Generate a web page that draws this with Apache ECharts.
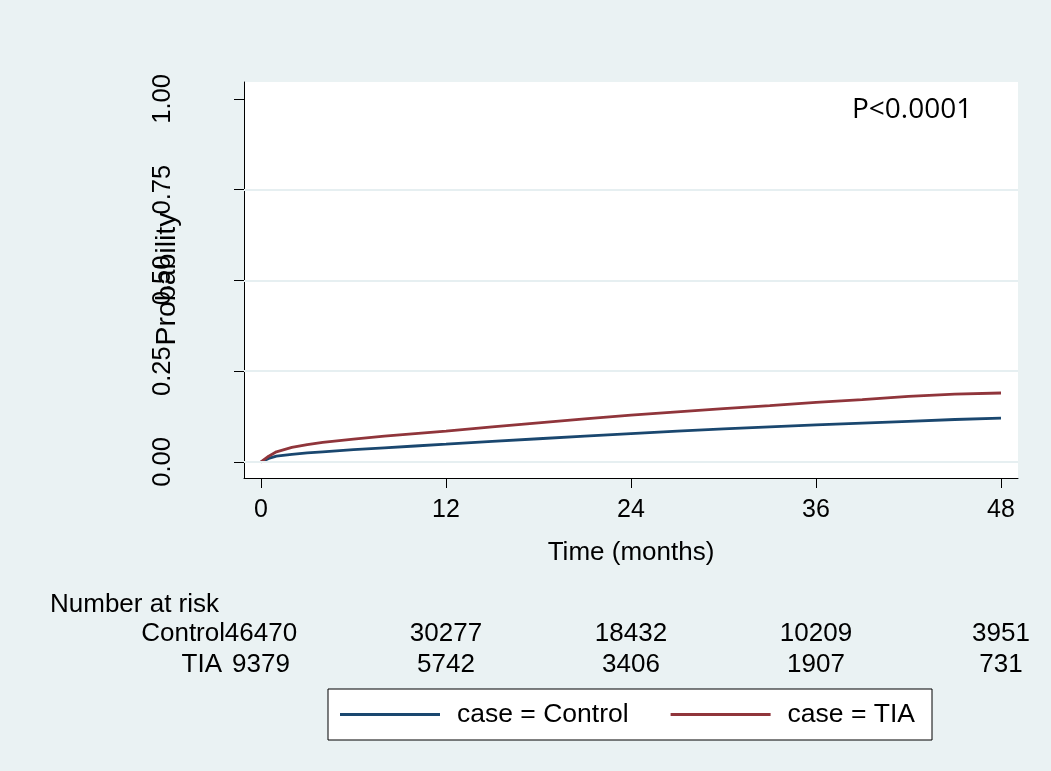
<!DOCTYPE html>
<html>
<head>
<meta charset="utf-8">
<title>Cumulative failure by case group</title>
<script src="https://cdn.jsdelivr.net/npm/echarts@6/dist/echarts.min.js"></script>
<style>
  html, body { margin: 0; padding: 0; background: #eaf2f3; }
  #chart { width: 1051px; height: 771px; }
</style>
</head>
<body>
<div id="chart"></div>
<script>
// Follow-up time (months) and cumulative failure probability per group
const timePoints = [0, 0.5, 1, 2, 3, 4, 6, 8, 10, 12, 15, 18, 21, 24, 27, 30, 33, 36, 39, 42, 45, 48];
const controlFailure = [0, 0.010, 0.016, 0.021, 0.025, 0.028, 0.034, 0.039, 0.044, 0.049, 0.057, 0.064, 0.071, 0.078, 0.085, 0.091, 0.097, 0.102, 0.107, 0.112, 0.117, 0.121];
const tiaFailure = [0, 0.016, 0.028, 0.040, 0.048, 0.054, 0.063, 0.071, 0.078, 0.085, 0.097, 0.108, 0.119, 0.129, 0.138, 0.147, 0.155, 0.164, 0.172, 0.181, 0.187, 0.190];

// Axis ticks
const xTicks = [0, 12, 24, 36, 48];
const yTicks = [0, 0.25, 0.5, 0.75, 1];
const gridValues = [0, 0.25, 0.5, 0.75];

// Number at risk at each x tick
const riskControl = [46470, 30277, 18432, 10209, 3951];
const riskTIA = [9379, 5742, 3406, 1907, 731];

const seriesNames = ['case = Control', 'case = TIA'];
const pText = 'P<0.0001';

const FONT = '"Liberation Sans", Arial, sans-serif';
const X_MIN = -1.103, X_MAX = 49.103;
const Y_MIN = -0.0441, Y_MAX = 1.0468;

const chart = echarts.init(document.getElementById('chart'), null, { renderer: 'canvas' });

function riskAxis(values, margin) {
  return {
    type: 'value', min: X_MIN, max: X_MAX, position: 'bottom',
    axisLine: { show: false, onZero: false },
    axisTick: { show: false },
    splitLine: { show: false },
    axisLabel: {
      customValues: xTicks, margin: margin,
      formatter: v => String(values[xTicks.indexOf(Math.round(v))]),
      fontSize: 26, color: '#000', fontFamily: FONT
    }
  };
}

const option = {
  backgroundColor: '#eaf2f3',
  animation: false,
  grid: { left: 244, right: 33, top: 82, bottom: 293, show: true, backgroundColor: '#ffffff', borderWidth: 0 },
  xAxis: [
    {
      type: 'value', min: X_MIN, max: X_MAX, position: 'bottom',
      axisLine: { show: true, onZero: false, lineStyle: { color: '#000', width: 1 } },
      axisTick: { show: true, length: 10, customValues: xTicks, lineStyle: { color: '#000', width: 1 } },
      axisLabel: { customValues: xTicks, margin: 20, fontSize: 25, color: '#000', fontFamily: FONT },
      splitLine: { show: false },
      name: 'Time (months)', nameLocation: 'middle', nameGap: 62,
      nameTextStyle: { fontSize: 26, color: '#000', fontFamily: FONT }
    },
    riskAxis(riskControl, 143),
    riskAxis(riskTIA, 174)
  ],
  yAxis: {
    type: 'value', min: Y_MIN, max: Y_MAX,
    axisLine: { show: true, onZero: false, lineStyle: { color: '#000', width: 1 } },
    axisTick: { show: true, length: 10, customValues: yTicks, lineStyle: { color: '#000', width: 1 } },
    axisLabel: {
      customValues: yTicks, rotate: 90, margin: 68,
      formatter: v => v.toFixed(2),
      fontSize: 25.5, color: '#000', fontFamily: FONT
    },
    splitLine: { show: false }
  },
  legend: {
    left: 328, top: 689, orient: 'horizontal',
    backgroundColor: '#ffffff', borderColor: '#000', borderWidth: 1,
    padding: [12, 17, 12, 12],
    itemWidth: 100, itemHeight: 3, itemGap: 42, icon: 'rect',
    textStyle: { fontSize: 26.5, color: '#000', fontFamily: FONT, padding: [0, 0, 0, 12] },
    data: seriesNames
  },
  series: [
    {
      // horizontal grid lines
      type: 'line', data: [], silent: true, z: 1,
      markLine: {
        silent: true, symbol: ['none', 'none'], animation: false,
        label: { show: false },
        lineStyle: { color: '#e6eff1', width: 2, type: 'solid' },
        data: gridValues.map(v => ({ yAxis: v }))
      }
    },
    {
      name: seriesNames[0], type: 'line', z: 3,
      data: timePoints.map((t, i) => [t, controlFailure[i]]),
      showSymbol: false, symbol: 'none', smooth: false,
      lineStyle: { color: '#1a476f', width: 2.8 },
      itemStyle: { color: '#1a476f' }
    },
    {
      name: seriesNames[1], type: 'line', z: 3,
      data: timePoints.map((t, i) => [t, tiaFailure[i]]),
      showSymbol: false, symbol: 'none', smooth: false,
      lineStyle: { color: '#90353b', width: 2.8 },
      itemStyle: { color: '#90353b' }
    }
  ],
  graphic: [
    {
      type: 'text', x: 167, y: 279, rotation: Math.PI / 2, z: 10,
      style: { text: 'Probability', font: '28.5px ' + FONT, fill: '#000',
               align: 'center', verticalAlign: 'middle', textAlign: 'center', textVerticalAlign: 'middle' }
    },
    {
      type: 'text', x: 852, y: 110, z: 10,
      style: { text: pText, font: '28px "Open Sans", sans-serif', fill: '#000',
               align: 'left', verticalAlign: 'middle', textAlign: 'left', textVerticalAlign: 'middle' }
    },
    {
      type: 'text', x: 50, y: 605, z: 10,
      style: { text: 'Number at risk', font: '26px ' + FONT, fill: '#000',
               align: 'left', verticalAlign: 'middle', textAlign: 'left', textVerticalAlign: 'middle' }
    },
    {
      type: 'text', x: 225, y: 634, z: 10,
      style: { text: 'Control', font: '26px ' + FONT, fill: '#000',
               align: 'right', verticalAlign: 'middle', textAlign: 'right', textVerticalAlign: 'middle' }
    },
    {
      type: 'text', x: 222, y: 665, z: 10,
      style: { text: 'TIA', font: '26px ' + FONT, fill: '#000',
               align: 'right', verticalAlign: 'middle', textAlign: 'right', textVerticalAlign: 'middle' }
    }
  ]
};

chart.setOption(option);
</script>
</body>
</html>
